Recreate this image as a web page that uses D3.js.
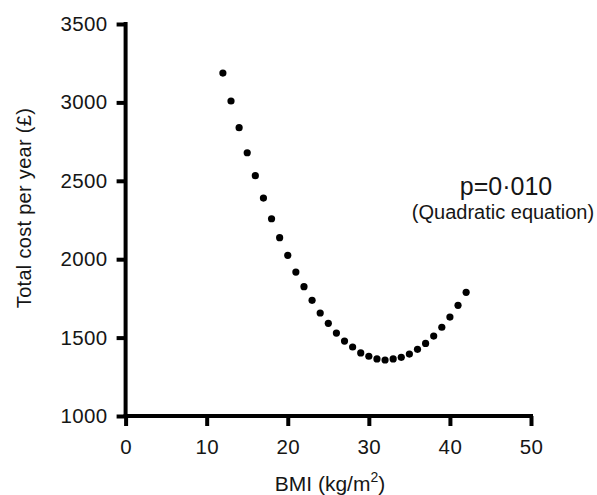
<!DOCTYPE html>
<html>
<head>
<meta charset="utf-8">
<script src="https://cdn.jsdelivr.net/npm/d3@7"></script>
<style>
    body { margin: 0; background: #fff; }
    svg text { font-family: "Liberation Sans", Arial, sans-serif; fill: #161616; }
</style>
</head>
<body>
<div id="plot"></div>
<script>
// BMI values (x) and estimated total cost per year (y)
var bmi = [12, 13, 14, 15, 16, 17, 18, 19, 20, 21, 22, 23, 24, 25, 26, 27,
           28, 29, 30, 31, 32, 33, 34, 35, 36, 37, 38, 39, 40, 41, 42];
var cost = [3187, 3009, 2839, 2679, 2533, 2390, 2258, 2137, 2025, 1918, 1825,
            1738, 1657, 1591, 1529, 1478, 1440, 1402, 1381, 1364, 1357, 1364,
            1374, 1395, 1425, 1463, 1510, 1566, 1631, 1706, 1789];
var x_ticks = [0, 10, 20, 30, 40, 50];
var y_ticks = [1000, 1500, 2000, 2500, 3000, 3500];

var width = 597, height = 495;

var svg = d3.select("div#plot").append("svg")
    .attr("width", width)
    .attr("height", height);

var x_scale = d3.scaleLinear().domain([0, 50]).range([125.6, 531]);
var y_scale = d3.scaleLinear().domain([1000, 3500]).range([416, 24]);

// X axis
var g_x = svg.append("g")
    .attr("transform", "translate(0," + y_scale(1000) + ")")
    .call(d3.axisBottom(x_scale).tickValues(x_ticks).tickFormat(d3.format("d"))
        .tickSize(10).tickSizeOuter(0).tickPadding(13));

// Y axis
var g_y = svg.append("g")
    .attr("transform", "translate(" + x_scale(0) + ",0)")
    .call(d3.axisLeft(y_scale).tickValues(y_ticks).tickFormat(d3.format("d"))
        .tickSize(9).tickSizeOuter(0).tickPadding(9));

[g_x, g_y].forEach(function(g) {
    g.select(".domain").attr("stroke", "#000").attr("stroke-width", 4);
    g.selectAll(".tick line").attr("stroke", "#000").attr("stroke-width", 4);
    g.selectAll(".tick text")
        .attr("fill", "#161616")
        .style("font-size", "20.5px")
        .style("letter-spacing", "0.4px")
        .style("font-family", "Liberation Sans, Arial, sans-serif");
});
g_x.select(".domain").attr("d", "M" + (x_scale(0) - 2) + ",0H" + (x_scale(50) + 2));
g_y.select(".domain").attr("d", "M0," + (y_scale(3500) - 2) + "V" + (y_scale(1000) + 2));

// Points
svg.append("g")
    .selectAll("circle")
    .data(bmi.map(function(b, i) { return {x: b, y: cost[i]}; }))
    .join("circle")
        .attr("cx", d => x_scale(d.x))
        .attr("cy", d => y_scale(d.y))
        .attr("r", 3.6)
        .attr("fill", "#000");

// Axis titles
var x_title = svg.append("text")
    .attr("x", 330)
    .attr("y", 491)
    .attr("text-anchor", "middle")
    .style("font-size", "21px")
    .text("BMI (kg/m");
x_title.append("tspan").attr("dy", -9).style("font-size", "14px").text("2");
x_title.append("tspan").attr("dy", 9).text(")");

svg.append("text")
    .attr("transform", "translate(31,208) rotate(-90)")
    .attr("text-anchor", "middle")
    .style("font-size", "20px")
    .style("letter-spacing", "0.3px")
    .text("Total cost per year (£)");

// Annotation
svg.append("text")
    .attr("x", 506)
    .attr("y", 195)
    .attr("text-anchor", "middle")
    .style("font-size", "25px")
    .text("p=0·010");

svg.append("text")
    .attr("x", 503)
    .attr("y", 219)
    .attr("text-anchor", "middle")
    .style("font-size", "20px")
    .text("(Quadratic equation)");
</script>
</body>
</html>
